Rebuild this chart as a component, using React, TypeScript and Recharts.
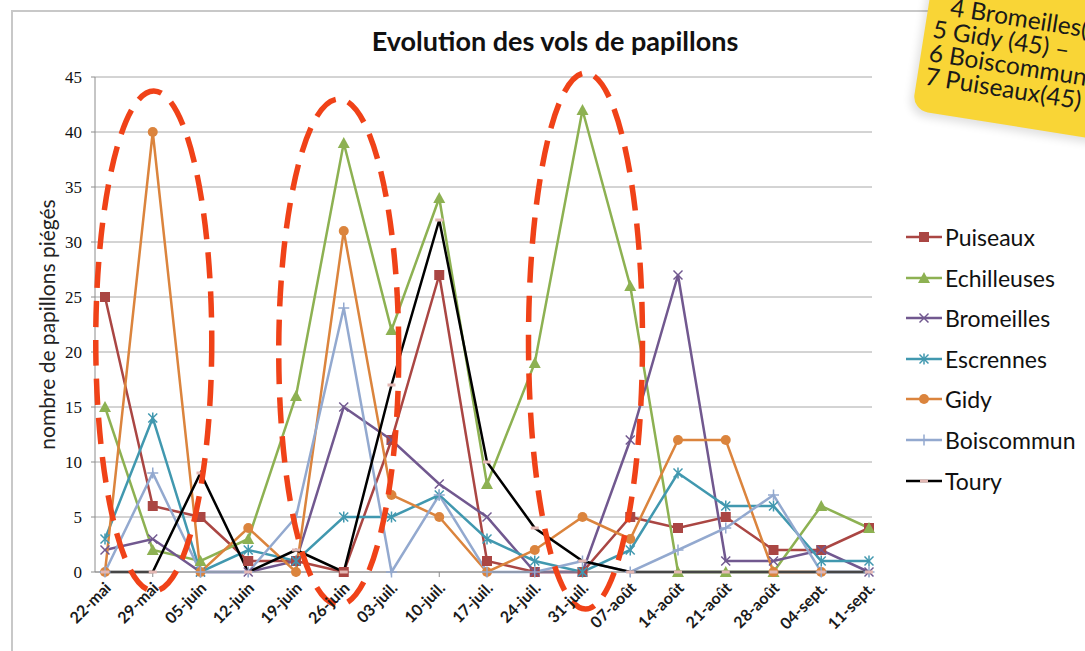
import React from 'react';
import { LineChart, Line, XAxis, YAxis, CartesianGrid, ReferenceDot } from 'recharts';

const categories = ['22-mai', '29-mai', '05-juin', '12-juin', '19-juin', '26-juin', '03-juil.', '10-juil.', '17-juil.', '24-juil.', '31-juil.', '07-août', '14-août', '21-août', '28-août', '04-sept.', '11-sept.'];

const puiseaux = [25, 6, 5, 1, 1, 0, 12, 27, 1, 0, 0, 5, 4, 5, 2, 2, 4];
const echilleuses = [15, 2, 1, 3, 16, 39, 22, 34, 8, 19, 42, 26, 0, 0, 0, 6, 4];
const bromeilles = [2, 3, 0, 0, 1, 15, 12, 8, 5, 0, 0, 12, 27, 1, 1, 2, 0];
const escrennes = [3, 14, 0, 2, 1, 5, 5, 7, 3, 1, 0, 2, 9, 6, 6, 1, 1];
const gidy: (number | null)[] = [0, 40, 0, 4, 0, 31, 7, 5, 0, 2, 5, 3, 12, 12, 0, 0, null];
const boiscommun = [0, 9, 0, 0, 5, 24, 0, 7, 0, 0, 1, 0, 2, 4, 7, 0, 0];
const toury = [0, 0, 9, 0, 2, 0, 17, 32, 10, 4, 1, 0, 0, 0, 0, 0, 0];

const yTicks = [0, 5, 10, 15, 20, 25, 30, 35, 40, 45];

const seriesNames = ['Puiseaux', 'Echilleuses', 'Bromeilles', 'Escrennes', 'Gidy', 'Boiscommun', 'Toury'];
const seriesValues = [puiseaux, echilleuses, bromeilles, escrennes, gidy, boiscommun, toury];
const seriesColors = ['#AA4643', '#8DB152', '#71588F', '#4198AF', '#DB843D', '#93A9CF', '#000000'];
const seriesMarkers = ['square', 'triangle', 'x', 'star', 'circle', 'plus', 'dash'];

// highlighted flight periods (dashed ellipses): centre category and centre value
const ellipseCats = ['29-mai', '26-juin', '31-juil.'];
const ellipseMid = [21, 20, 21];
const ellipseRadii = [[58, 250], [60, 253], [57, 268]];
const ellipseShift = [1, -5, 3];

const noteLines = ['4 Bromeilles(45)', '5 Gidy (45) –', '6 Boiscommun(45)', '7 Puiseaux(45)'];

const data = categories.map((c, i) => {
  const row: any = { date: c };
  seriesNames.forEach((n, k) => { row[n] = seriesValues[k][i]; });
  return row;
});

const FONT = 'Lato, "Open Sans", sans-serif';

function Marker({ kind, color, cx, cy }: { kind: string; color: string; cx: number; cy: number }) {
  switch (kind) {
    case 'square':
      return <rect x={cx - 5} y={cy - 5} width={10} height={10} fill={color} />;
    case 'triangle':
      return <polygon points={`${cx},${cy - 6} ${cx + 6},${cy + 5} ${cx - 6},${cy + 5}`} fill={color} />;
    case 'x':
      return (
        <g stroke={color} strokeWidth={1.5}>
          <line x1={cx - 4.5} y1={cy - 4.5} x2={cx + 4.5} y2={cy + 4.5} />
          <line x1={cx - 4.5} y1={cy + 4.5} x2={cx + 4.5} y2={cy - 4.5} />
        </g>
      );
    case 'star':
      return (
        <g stroke={color} strokeWidth={1.5}>
          <line x1={cx - 4.5} y1={cy - 4.5} x2={cx + 4.5} y2={cy + 4.5} />
          <line x1={cx - 4.5} y1={cy + 4.5} x2={cx + 4.5} y2={cy - 4.5} />
          <line x1={cx} y1={cy - 5.5} x2={cx} y2={cy + 5.5} />
        </g>
      );
    case 'circle':
      return <circle cx={cx} cy={cy} r={5} fill={color} />;
    case 'plus':
      return (
        <g stroke={color} strokeWidth={1.5}>
          <line x1={cx - 5.5} y1={cy} x2={cx + 5.5} y2={cy} />
          <line x1={cx} y1={cy - 5.5} x2={cx} y2={cy + 5.5} />
        </g>
      );
    case 'dash':
      return <rect x={cx - 4} y={cy - 1.5} width={8} height={3} fill="#E3B7B3" />;
    default:
      return null;
  }
}

const makeDot = (kind: string, color: string) => (props: any) => {
  const { cx, cy, index, value } = props;
  const k = `${kind}-${index}`;
  if (cx == null || cy == null || value == null || Number.isNaN(cy)) return <g key={k} />;
  return <g key={k}><Marker kind={kind} color={color} cx={cx} cy={cy} /></g>;
};

const XTick = (props: any) => {
  const { x, y, payload } = props;
  return (
    <text
      x={0}
      y={0}
      transform={`translate(${x + 7},${y + 10}) rotate(-45)`}
      textAnchor="end"
      fontSize={16}
      fontWeight={700}
      fontFamily={FONT}
      fill="#1a1a1a"
    >
      {payload.value}
    </text>
  );
};

const LegendIcon = ({ kind, color }: { kind: string; color: string }) => (
  <svg width={36} height={14} style={{ display: 'block' }}>
    <line x1={0} y1={7} x2={36} y2={7} stroke={color} strokeWidth={2.5} />
    <Marker kind={kind} color={color} cx={18} cy={7} />
  </svg>
);

export default function App() {
  return (
    <div style={{ position: 'absolute', left: 0, top: 0, width: 1085, height: 651, overflow: 'hidden', background: '#fff' }}>
      {/* chart frame */}
      <div style={{ position: 'absolute', left: 11, top: 10, width: 1200, height: 800, border: '2px solid #C8C8C8', boxSizing: 'border-box' }} />

      <div style={{ position: 'absolute', left: 0, top: 0 }}>
        <LineChart width={1085} height={651} data={data} margin={{ top: 77, right: 213, left: 0, bottom: 19 }}>
          <CartesianGrid vertical={false} stroke="#A8A8A8" strokeWidth={1} />
          <XAxis
            dataKey="date"
            interval={0}
            height={60}
            padding={{ left: 10, right: 3 }}
            axisLine={{ stroke: '#8C8C8C' }}
            tickLine={{ stroke: '#8C8C8C' }}
            tickSize={5}
            tick={<XTick />}
          />
          <YAxis
            width={95}
            domain={[0, 45]}
            ticks={yTicks}
            interval={0}
            axisLine={{ stroke: '#8C8C8C' }}
            tickLine={{ stroke: '#8C8C8C' }}
            tickSize={4}
            tickMargin={9}
            tick={{ fill: '#111', fontSize: 17, fontFamily: '"Liberation Serif", serif' }}
            label={{ value: 'nombre de papillons piégés', angle: -90, position: 'center', fontSize: 21, fill: '#222', fontFamily: FONT, dx: 0 }}
          />
          {seriesNames.map((n, k) => (
            <Line
              key={n}
              type="linear"
              dataKey={n}
              stroke={seriesColors[k]}
              strokeWidth={2.5}
              dot={makeDot(seriesMarkers[k], seriesColors[k])}
              activeDot={false}
              isAnimationActive={false}
              connectNulls={false}
            />
          ))}
          {ellipseCats.map((c, i) => (
            <ReferenceDot
              key={c}
              x={c}
              y={ellipseMid[i]}
              r={1}
              ifOverflow="visible"
              shape={(p: any) => (
                <ellipse
                  cx={p.cx + ellipseShift[i]}
                  cy={p.cy}
                  rx={ellipseRadii[i][0]}
                  ry={ellipseRadii[i][1]}
                  fill="none"
                  stroke="#F04218"
                  strokeWidth={5.5}
                  strokeDasharray="26 13"
                />
              )}
            />
          ))}
        </LineChart>
      </div>

      {/* title */}
      <div style={{ position: 'absolute', left: 305, width: 500, top: 24, textAlign: 'center', fontFamily: FONT, fontWeight: 700, fontSize: 27, color: '#111', whiteSpace: 'nowrap' }}>
        Evolution des vols de papillons
      </div>

      {/* legend */}
      {seriesNames.map((n, k) => (
        <div key={n} style={{ position: 'absolute', left: 906, top: 237 + k * 40.6 - 15, height: 30, display: 'flex', alignItems: 'center', fontFamily: FONT, fontSize: 23, color: '#111', whiteSpace: 'nowrap' }}>
          <LegendIcon kind={seriesMarkers[k]} color={seriesColors[k]} />
          <span style={{ marginLeft: 3 }}>{n}</span>
        </div>
      ))}

      {/* sticky note */}
      <div style={{ position: 'absolute', left: 912, top: -52, width: 260, height: 162, background: '#F9D536', borderRadius: 16, transformOrigin: '0 100%', transform: 'rotate(9deg)', boxShadow: '-3px 5px 8px rgba(0,0,0,0.12)', fontFamily: FONT, fontSize: 24.5, color: '#1a1a1a', lineHeight: '24px', padding: '42px 0 0 8px', boxSizing: 'border-box', whiteSpace: 'nowrap' }}>
        {noteLines.map((t, i) => (
          <div key={i} style={{ marginLeft: i === 0 ? 14 : 0 }}>{t}</div>
        ))}
      </div>
    </div>
  );
}
